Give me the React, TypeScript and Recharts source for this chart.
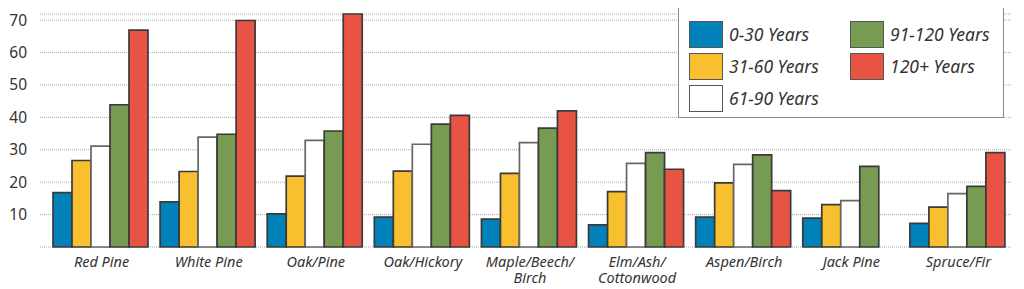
import { BarChart, Bar, XAxis, YAxis, CartesianGrid, Legend } from "recharts";

const categories = [
  "Red Pine",
  "White Pine",
  "Oak/Pine",
  "Oak/Hickory",
  "Maple/Beech/\nBirch",
  "Elm/Ash/\nCottonwood",
  "Aspen/Birch",
  "Jack Pine",
  "Spruce/Fir",
];

const years0to30 = [16.8, 13.9, 10.2, 9.2, 8.6, 6.8, 9.2, 8.9, 7.3];
const years31to60 = [26.7, 23.3, 21.9, 23.4, 22.7, 17.1, 19.8, 13.1, 12.3];
const years61to90 = [31.1, 33.9, 32.9, 31.7, 32.2, 25.8, 25.5, 14.3, 16.5];
const years91to120 = [43.9, 34.8, 35.8, 37.9, 36.7, 29.1, 28.4, 24.9, 18.7];
const years120plus = [66.9, 69.9, 71.9, 40.6, 42.0, 24.0, 17.4, null, 29.1];

const yTicks = [0, 10, 20, 30, 40, 50, 60, 70];

const series = [
  { key: "a", name: "0-30 Years", color: "#0081b9", stroke: "#3a3a3a" },
  { key: "b", name: "31-60 Years", color: "#f8bf2f", stroke: "#3a3a3a" },
  { key: "c", name: "61-90 Years", color: "#ffffff", stroke: "#666666" },
  { key: "d", name: "91-120 Years", color: "#779b52", stroke: "#3a3a3a" },
  { key: "e", name: "120+ Years", color: "#e85444", stroke: "#3a3a3a" },
];

const data = categories.map((name, i) => ({
  name,
  a: years0to30[i],
  b: years31to60[i],
  c: years61to90[i],
  d: years91to120[i],
  e: years120plus[i],
}));

const FONT = "'Noto Sans', 'Open Sans', sans-serif";

// each line of a category label is its own text so they can't overlap
const CategoryTick = (props: any) => {
  const { x, y, payload } = props;
  const lines = String(payload.value).split("\n");
  return (
    <g>
      {lines.map((l, i) => (
        <text
          key={i}
          x={x}
          y={y + 20 + i * 15.5}
          textAnchor="middle"
          fill="#333"
          fontSize={14.5}
          fontStyle="italic"
          fontFamily={FONT}
        >
          {l}
        </text>
      ))}
    </g>
  );
};

const LegendBox = () => (
  <div
    style={{
      boxSizing: "border-box",
      width: 326,
      height: 111,
      border: "1px solid #888",
      background: "#fff",
      display: "grid",
      gridAutoFlow: "column",
      gridTemplateRows: "repeat(3, 32px)",
      gridTemplateColumns: "161px 150px",
      padding: "10px 0 0 10px",
      fontFamily: FONT,
      fontStyle: "italic",
      fontSize: 17.5,
      color: "#333",
    }}
  >
    {series.map((s) => (
      <div key={s.key} style={{ display: "flex", alignItems: "center", whiteSpace: "nowrap" }}>
        <span
          style={{
            display: "inline-block",
            flex: "none",
            boxSizing: "border-box",
            width: 34,
            height: 27,
            background: s.color,
            border: "1px solid #555",
            marginRight: 6,
          }}
        />
        {s.name}
      </div>
    ))}
  </div>
);

export default function App() {
  return (
    <div style={{ width: 1016, height: 281 }}>
      <BarChart
        width={1016}
        height={281}
        data={data}
        margin={{ top: 6, right: 12, left: 0, bottom: 0 }}
        barCategoryGap={5}
        barGap={0}
      >
        <CartesianGrid
          horizontal
          vertical={false}
          stroke="#aaa"
          strokeDasharray="1 1"
        />
        <XAxis
          dataKey="name"
          height={42}
          axisLine={false}
          tickLine={false}
          tickSize={0}
          tickMargin={0}
          padding={{ left: 8, right: 0 }}
          interval={0}
          tick={<CategoryTick />}
        />
        <YAxis
          width={32}
          domain={[0, 70]}
          ticks={yTicks}
          axisLine={false}
          tickLine={false}
          tickSize={6}
          tickMargin={7}
          tickFormatter={(v: number) => (v === 0 ? "" : String(v))}
          tick={{ fill: "#333", fontSize: 15.5, fontFamily: FONT }}
        />
        <Legend
          layout="vertical"
          align="center"
          verticalAlign="middle"
          wrapperStyle={{ top: -1, left: 670, width: 326, height: 111 }}
          content={<LegendBox />}
        />
        {series.map((s) => (
          <Bar
            key={s.key}
            dataKey={s.key}
            name={s.name}
            fill={s.color}
            stroke={s.stroke}
            strokeWidth={1.7}
            isAnimationActive={false}
          />
        ))}
      </BarChart>
    </div>
  );
}
